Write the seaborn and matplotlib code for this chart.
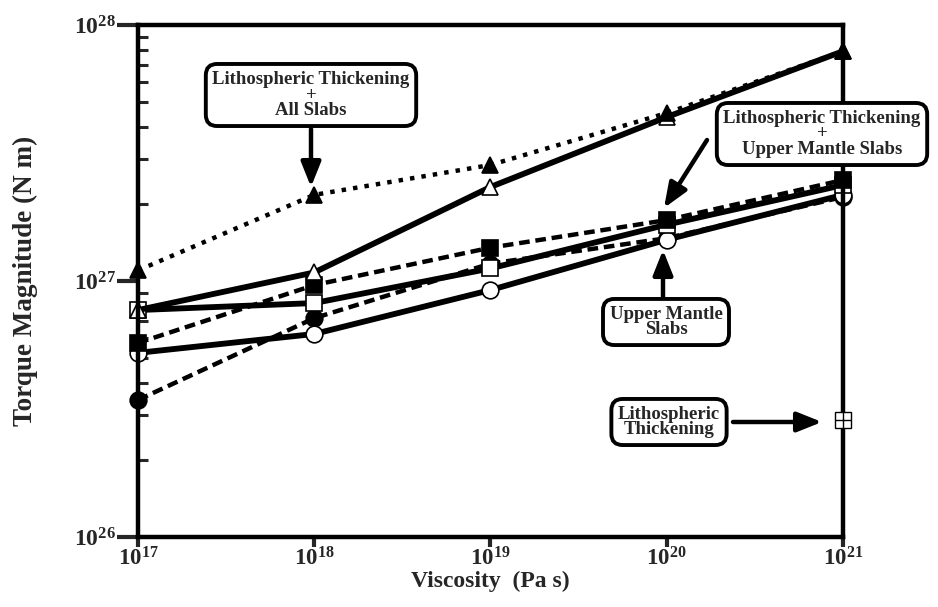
import numpy as np
import pandas as pd
import seaborn as sns
import matplotlib.pyplot as plt
from matplotlib.ticker import LogLocator, NullLocator, FixedLocator, FixedFormatter

# datos
viscosity = [1e17, 1e18, 1e19, 1e20, 1e21]
visc_labels = [r'$10^{17}$', r'$10^{18}$', r'$10^{19}$', r'$10^{20}$', r'$10^{21}$']

tri_filled = [1.10e27, 2.17e27, 2.84e27, 4.53e27, 7.9e27]
tri_open = [7.7e26, 1.08e27, 2.33e27, 4.37e27, 7.9e27]
sq_filled = [5.73e26, 9.64e26, 1.35e27, 1.73e27, 2.48e27]
sq_open = [7.7e26, 8.2e26, 1.12e27, 1.66e27, 2.37e27]
circ_filled = [3.43e26, 7.16e26, 1.17e27, 1.47e27, 2.13e27]
circ_open = [5.24e26, 6.21e26, 9.22e26, 1.45e27, 2.17e27]
litho_only = 2.87e26

torque_ticks = [1e26, 1e27, 1e28]
torque_labels = [r'$10^{26}$', r'$10^{27}$', r'$10^{28}$']

sns.set_style("white")
plt.rcParams['font.family'] = ['Liberation Serif', 'DejaVu Serif']
plt.rcParams['mathtext.fontset'] = 'custom'
plt.rcParams['mathtext.rm'] = 'Liberation Serif:bold'
plt.rcParams['mathtext.it'] = 'Liberation Serif:bold'
plt.rcParams['mathtext.bf'] = 'Liberation Serif:bold'
plt.rcParams['mathtext.default'] = 'bf'

fig = plt.figure(figsize=(9.38, 6.07), dpi=100)
ax = fig.add_axes([0.1471, 0.1153, 0.7516, 0.8435])

# series: (valores, estilo linea, grosor, marcador, relleno)
series = [
    (circ_filled, (0, (2.4, 1.3)), 3.2, 'o', 'black'),
    (circ_open, '-', 4.2, 'o', 'white'),
    (sq_open, '-', 4.2, 's', 'white'),
    (sq_filled, (0, (2.4, 1.3)), 3.2, 's', 'black'),
    (tri_open, '-', 4.2, '^', 'white'),
    (tri_filled, (0, (1, 1.6)), 3.2, '^', 'black'),
]
for vals, ls, lw, mk, fc in series:
    sns.lineplot(x=viscosity, y=vals, ax=ax, color='black', linestyle=ls, linewidth=lw,
                 marker=mk, markersize=12, markerfacecolor=fc, markeredgecolor='black',
                 markeredgewidth=1.2, clip_on=False)

# lithospheric thickening solo
ax.plot([1e21], [litho_only], marker='s', markersize=12, markerfacecolor='white',
        markeredgecolor='black', markeredgewidth=1, clip_on=False, zorder=5)
ax.plot([1e21], [litho_only], marker='+', markersize=12, markeredgecolor='black',
        markeredgewidth=1, clip_on=False, zorder=6)

ax.set_xscale('log')
ax.set_yscale('log')
ax.set_xlim(1e17, 1e21)
ax.set_ylim(1e26, 1e28)

ax.xaxis.set_major_locator(FixedLocator(viscosity))
ax.xaxis.set_major_formatter(FixedFormatter(visc_labels))
ax.xaxis.set_minor_locator(NullLocator())
ax.yaxis.set_major_locator(FixedLocator(torque_ticks))
ax.yaxis.set_major_formatter(FixedFormatter(torque_labels))
ax.yaxis.set_minor_locator(LogLocator(base=10, subs=np.arange(2, 10)))

ax.tick_params(axis='x', which='major', direction='out', length=7.5, width=3,
               labelsize=16.5, pad=0, bottom=True)
ax.tick_params(axis='y', which='major', direction='out', length=15, width=3,
               labelsize=17, pad=1, left=True)
ax.tick_params(axis='y', which='minor', direction='in', length=7, width=2.2, left=True)

for sp in ax.spines.values():
    sp.set_linewidth(3.2)
    sp.set_color('black')

ax.set_xlabel('Viscosity  (Pa s)', fontsize=17, fontweight='bold')
ax.set_ylabel('Torque Magnitude (N m)', fontsize=19.5, fontweight='bold')
ax.xaxis.set_label_coords(0.5, -0.066)
ax.yaxis.set_label_coords(-0.142, 0.5)

# cajas de anotacion
box = dict(boxstyle='round,pad=0.35,rounding_size=0.6', fc='white', ec='black', lw=2.8)
txt = dict(fontsize=13.5, fontweight='bold', ha='center', va='center', bbox=box,
           linespacing=0.92)
W, H = 938, 607
fig.text(311 / W, 512 / H, 'Lithospheric Thickening\n+\nAll Slabs', **txt)
fig.text(822 / W, 473 / H, 'Lithospheric Thickening\n+\nUpper Mantle Slabs', **txt)
fig.text(666 / W, 285 / H, 'Upper Mantle\nSlabs', **txt)
fig.text(669 / W, 185 / H, 'Lithospheric\nThickening', **txt)

# flechas
arrow = dict(arrowstyle='-|>,head_length=1.5,head_width=0.6', color='black', lw=3.2,
             shrinkA=0, shrinkB=0)
for start, tip in [((311, 478), (311, 420)), ((707, 467), (664, 399)),
                   ((663, 307), (663, 357)), ((733, 185), (822, 185))]:
    ax.annotate('', xy=tip, xycoords='figure pixels', xytext=start,
                textcoords='figure pixels', arrowprops=arrow)

fig.savefig('out.png', dpi=100)
